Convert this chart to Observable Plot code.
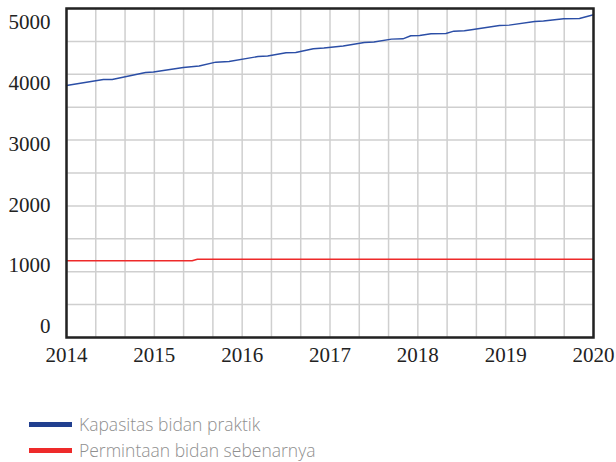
<!DOCTYPE html>
<html><head><meta charset="utf-8">
<script src="https://cdn.jsdelivr.net/npm/d3@7"></script>
<script src="https://cdn.jsdelivr.net/npm/@observablehq/plot@0.6"></script>
<style>
body{margin:0;background:#fff;width:616px;height:462px;overflow:hidden}
#legend{padding-top:31px;font-family:"Open Sans",sans-serif;font-size:17.5px;font-weight:300;color:#8f8f8f}
.row{height:26px;display:flex;align-items:center}
.sw{width:43px;height:5px;margin-left:29px;margin-right:7px}
</style>
</head><body>
<div id="chart"></div>
<div id="legend"></div>
<script>
const yearTicks = [2014, 2015, 2016, 2017, 2018, 2019, 2020];
const valueTicks = [0, 1000, 2000, 3000, 4000, 5000];
const seriesNames = ["Kapasitas bidan praktik", "Permintaan bidan sebenarnya"];
const seriesColors = ["#2b4ea6", "#ee2a2a"];
const legendColors = ["#213f8f", "#ee2a2a"];

const capacityTime = [2014.00, 2014.42, 2014.52, 2014.90, 2014.99, 2015.33, 2015.51, 2015.70, 2015.85, 2016.18, 2016.29, 2016.50, 2016.61, 2016.81, 2016.93, 2017.15, 2017.39, 2017.50, 2017.70, 2017.83, 2017.92, 2018.02, 2018.15, 2018.32, 2018.41, 2018.53, 2018.61, 2018.93, 2019.04, 2019.33, 2019.43, 2019.66, 2019.84, 2020.00];
const capacityValue = [3960, 4058, 4058, 4174, 4182, 4256, 4280, 4343, 4354, 4436, 4445, 4497, 4502, 4563, 4576, 4609, 4666, 4675, 4721, 4727, 4777, 4782, 4809, 4814, 4852, 4859, 4875, 4946, 4951, 5011, 5020, 5056, 5061, 5122];

const demandTime = [2014.00, 2015.43, 2015.49, 2020.00];
const demandValue = [1080, 1080, 1105, 1105];

const capacity = capacityTime.map((t, i) => ({t, v: capacityValue[i], s: seriesNames[0]}));
const demand = demandTime.map((t, i) => ({t, v: demandValue[i], s: seriesNames[1]}));

const xDomain = [yearTicks[0], yearTicks[yearTicks.length - 1]];
const yDomain = [-181, 5225];
const xGrid = d3.range(19).map(i => xDomain[0] + i * (xDomain[1] - xDomain[0]) / 18);
const yGrid = d3.range(11).map(i => yDomain[0] + i * (yDomain[1] - yDomain[0]) / 10);

const chart = Plot.plot({
  width: 616,
  height: 380,
  marginLeft: 66,
  marginRight: 23,
  marginTop: 8,
  marginBottom: 43,
  style: {fontFamily: "Liberation Serif, serif", fontSize: "21px", color: "#222", background: "#fff"},
  x: {domain: xDomain},
  y: {domain: yDomain},
  marks: [
    Plot.ruleX(xGrid, {stroke: "#cfcfcf", strokeWidth: 1.5, strokeOpacity: 1}),
    Plot.ruleY(yGrid, {stroke: "#cfcfcf", strokeWidth: 1.5, strokeOpacity: 1}),
    Plot.axisX({ticks: yearTicks, tickSize: 0, tickPadding: 10, tickFormat: d => String(d), label: null, fill: "#222"}),
    Plot.axisY({ticks: valueTicks, tickSize: 0, tickPadding: 16, tickFormat: d => String(d), label: null, fill: "#222"}),
    Plot.line(demand, {x: "t", y: "v", stroke: seriesColors[1], strokeWidth: 1.4}),
    Plot.line(capacity, {x: "t", y: "v", stroke: seriesColors[0], strokeWidth: 1.4}),
    Plot.frame({stroke: "#222", strokeWidth: 2.5})
  ]
});
document.getElementById("chart").appendChild(chart);

const legend = document.getElementById("legend");
seriesNames.forEach((name, i) => {
  const row = document.createElement("div");
  row.className = "row";
  const sw = document.createElement("span");
  sw.className = "sw";
  sw.style.background = legendColors[i];
  const label = document.createElement("span");
  label.textContent = name;
  row.appendChild(sw);
  row.appendChild(label);
  legend.appendChild(row);
});
</script>
</body></html>
